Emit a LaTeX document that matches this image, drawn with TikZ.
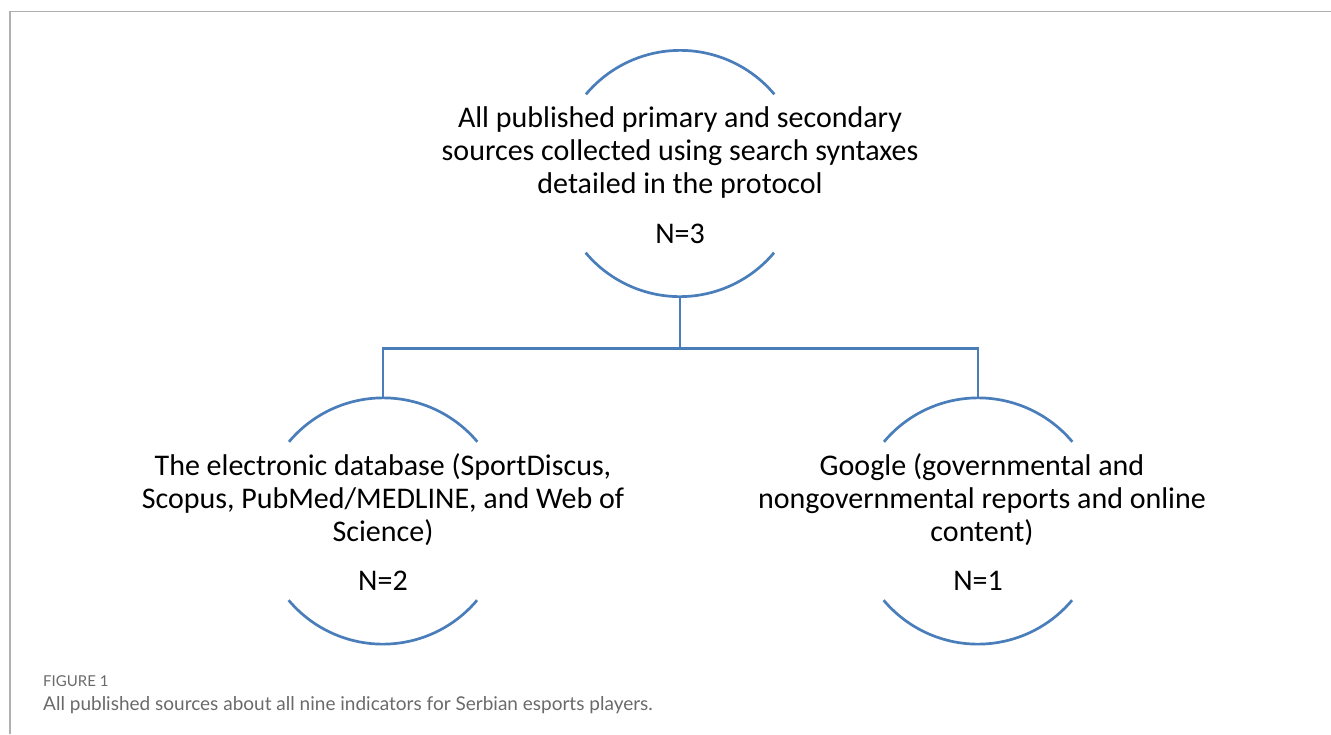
\documentclass[tikz,border=0pt]{standalone}
\usepackage{fontspec}
\setmainfont{Carlito}
\newfontfamily\capfont{Lato}
\begin{document}
\begin{tikzpicture}[x=1pt,y=1pt,
  ring/.style={circle,minimum size=246pt,inner sep=0pt},
  arcline/.style={draw=arcblue,line width=2.7pt},
  link/.style={draw=arcblue,line width=2.9pt},
  label/.style={align=center,font=\fontsize{30}{33}\selectfont,inner sep=0pt,text=black},
  count/.style={font=\fontsize{30}{33}\selectfont,inner sep=0pt,text=black}]
\definecolor{arcblue}{HTML}{4A7EBB}
\definecolor{framegray}{HTML}{B0B0B0}
\definecolor{capgray}{HTML}{6A6A6A}
\useasboundingbox (0,0) rectangle (1331,-734);
% frame
\draw[framegray,line width=1.5pt] (10,-734) -- (10,-11.5) -- (1331,-11.5);

% groups: each one a hidden circle, shown by its upper and lower arcs
\node[ring] (top)   at (680,-173.5) {};
\node[ring] (left)  at (383,-521) {};
\node[ring] (right) at (978,-521) {};
\foreach \n in {top,left,right}{
  \draw[arcline] (\n.40) arc[start angle=40,end angle=140,radius=123];
  \draw[arcline] (\n.220) arc[start angle=220,end angle=320,radius=123];
}

% texts
\node[label] (toptext) at (680,-152) {All published primary and secondary\\sources collected using search syntaxes\\detailed in the protocol};
\node[count] (topn) at (680,-234) {N=3};
\node[label] (lefttext) at (383,-500) {The electronic database (SportDiscus,\\Scopus, PubMed/MEDLINE, and Web of\\Science)};
\node[count] (leftn) at (383,-581) {N=2};
\node[label] (righttext) at (982,-500) {Google (governmental and\\nongovernmental reports and online\\content)};
\node[count] (rightn) at (978,-581) {N=1};

% connectors
\coordinate (bus) at (680,-348.5);
\draw[link] (top.south) -- (bus);
\draw[link,line join=miter] (bus) -| (left.north);
\draw[link,line join=miter] (bus) -| (right.north);

% caption
\node[anchor=base west,inner sep=0pt,text=capgray,font=\capfont\fontsize{15}{17}\selectfont] (figlabel) at (43,-686) {FIGURE 1};
\node[anchor=base west,inner sep=0pt,text=capgray,font=\capfont\fontsize{19}{22}\selectfont] (captext) at (43,-710) {All published sources about all nine indicators for Serbian esports players.};
\end{tikzpicture}
\end{document}
